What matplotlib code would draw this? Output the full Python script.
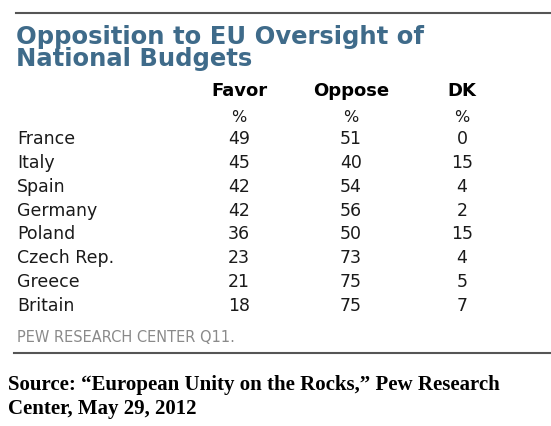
import matplotlib.pyplot as plt

# table data
countries = ["France", "Italy", "Spain", "Germany", "Poland", "Czech Rep.", "Greece", "Britain"]
favor = [49, 45, 42, 42, 36, 23, 21, 18]
oppose = [51, 40, 54, 56, 50, 73, 75, 75]
dk = [0, 15, 4, 2, 15, 4, 5, 7]
columns = ["Favor", "Oppose", "DK"]

title = "Opposition to EU Oversight of\nNational Budgets"
note = "PEW RESEARCH CENTER Q11."
source = "Source: \u201cEuropean Unity on the Rocks,\u201d Pew Research\nCenter, May 29, 2012"

W, H = 551, 426
fig = plt.figure(figsize=(W / 100, H / 100), dpi=100)
ax = fig.add_axes([0, 0, 1, 1])
ax.set_xlim(0, W)
ax.set_ylim(H, 0)
ax.axis("off")

title_color = "#3f6b8a"
text_color = "#1a1a1a"
sans = "DejaVu Sans"

# rules
ax.plot([16, W], [13, 13], color="#555555", lw=1.5)
ax.plot([14, W], [353, 353], color="#555555", lw=1.5)

ax.text(16, 48, title, color=title_color, fontsize=17.5, fontweight="bold",
        family=sans, va="center", ha="left", linespacing=0.85)

col_x = [239, 351, 462]
for cx, name in zip(col_x, columns):
    ax.text(cx, 91, name, ha="center", va="center", fontsize=13,
            fontweight="bold", color="black", family=sans)
    ax.text(cx, 117, "%", ha="center", va="center", fontsize=11.5,
            color=text_color, family=sans)

row_y0, row_dy = 139, 23.85
for i, c in enumerate(countries):
    y = row_y0 + i * row_dy
    ax.text(17, y, c, ha="left", va="center", fontsize=12.5, color=text_color, family=sans)
    for cx, vals in zip(col_x, [favor, oppose, dk]):
        ax.text(cx, y, str(vals[i]), ha="center", va="center", fontsize=12.5,
                color=text_color, family=sans)

ax.text(17, 337, note, ha="left", va="center", fontsize=10.5, color="#8a8a8a", family=sans)

ax.text(8, 397, source, ha="left", va="center", fontsize=15, fontweight="bold",
        family="Liberation Serif", color="black", linespacing=1.3)

fig.savefig("out.png", dpi=100)
